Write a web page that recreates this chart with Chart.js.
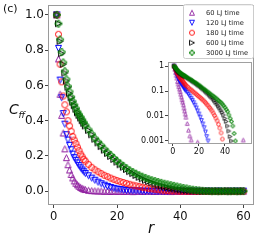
<!DOCTYPE html>
<html lang="en">
<head>
<meta charset="UTF-8">
<title>Cff vs r</title>
<script src="https://cdn.jsdelivr.net/npm/chart.js"></script>
<style>
  body { margin: 0; background: #fff; }
  #wrap { position: relative; width: 258px; height: 240px; }
  #mainChart { position: absolute; left: 0; top: 0; }
  #insetChart { position: absolute; left: 130px; top: 55px; }
</style>
</head>
<body>
<div id="wrap">
  <canvas id="mainChart" width="258" height="240"></canvas>
  <canvas id="insetChart" width="126" height="105"></canvas>
</div>
<script>
const rVals = [1, 1.5, 2, 2.5, 3, 3.5, 4, 4.5, 5, 5.5, 6, 6.5, 7, 7.5, 8, 8.5, 9, 9.5, 10,
  11, 12, 13, 14, 15, 16, 17, 18, 19, 20,
  21, 22, 23, 24, 25, 26, 27, 28, 29, 30,
  31, 32, 33, 34, 35, 36, 37, 38, 39, 40,
  41, 42, 43, 44, 45, 46, 47, 48, 49, 50,
  51, 52, 53, 54, 55, 56, 57, 58, 59, 60];

const c60 = [1, 0.75, 0.55, 0.43, 0.33, 0.24, 0.19, 0.15, 0.12, 0.095, 0.075, 0.058, 0.045, 0.036, 0.028, 0.021, 0.016, 0.012, 0.009,
  0.005, 0.0027, 0.0016, 0.0011, 0.0006, -0.001, 0.0004, -0.002, 0.0009, -0.0015,
  0.0003, -0.002, -0.0008, 0.0005, -0.0025, -0.001, 0.0002, -0.0018, -0.0006, 0.0004,
  -0.0012, -0.002, 0.0003, -0.0009, -0.0015, 0.0001, -0.0022, -0.0005, 0.0002, -0.0013,
  -0.0008, 0.0003, -0.0017, -0.0004, 0.0002, -0.001, -0.002, 0.0001, -0.0006, -0.0014,
  0.0002, -0.0009, -0.0003, 0.0011, -0.0018, -0.0007, 0.0001, -0.0012, -0.0005, 0.0003];

const c120 = [1, 0.81, 0.63, 0.53, 0.44, 0.38, 0.32, 0.29, 0.26, 0.235, 0.21, 0.19, 0.175, 0.16, 0.145, 0.132, 0.12, 0.11, 0.1,
  0.087, 0.074, 0.062, 0.051, 0.042, 0.034, 0.027, 0.021, 0.016, 0.012,
  0.009, 0.0066, 0.0048, 0.0034, 0.0023, 0.0015, 0.001, 0.0004, -0.0008, 0.0002,
  -0.0012, 0.0003, -0.0015, -0.0005, 0.0001, -0.001, 0.0004, -0.0018, -0.0003, 0.0002,
  -0.0009, -0.0014, 0.0003, -0.0006, -0.0011, 0.0001, -0.0016, -0.0004, 0.0002, -0.0008,
  -0.0012, 0.0004, -0.0007, -0.0015, 0.0001, -0.0005, -0.001, 0.0003, -0.0009, -0.0002];

const c180 = [1, 0.89, 0.72, 0.62, 0.54, 0.49, 0.45, 0.40, 0.37, 0.34, 0.31, 0.29, 0.27, 0.25, 0.23, 0.21, 0.195, 0.18, 0.17,
  0.152, 0.135, 0.121, 0.11, 0.1, 0.09, 0.082, 0.074, 0.067, 0.06,
  0.054, 0.049, 0.044, 0.039, 0.034, 0.03, 0.026, 0.022, 0.019, 0.016,
  0.013, 0.0105, 0.0083, 0.0064, 0.0047, 0.0033, 0.0021, 0.0012, 0.0004, -0.0006,
  0.0002, -0.001, -0.0004, 0.0001, -0.0013, -0.0005, 0.0002, -0.0009, -0.0003, -0.0011,
  0.0001, -0.0007, -0.0012, -0.0002, 0.0003, -0.0008, -0.0004, -0.001, 0.0001, -0.0006];

const c600 = [1, 0.95, 0.85, 0.78, 0.72, 0.67, 0.625, 0.59, 0.555, 0.53, 0.505, 0.485, 0.465, 0.445, 0.43, 0.415, 0.4, 0.385, 0.37,
  0.345, 0.32, 0.295, 0.274, 0.253, 0.233, 0.214, 0.197, 0.18, 0.165,
  0.15, 0.136, 0.123, 0.111, 0.1, 0.089, 0.079, 0.07, 0.062, 0.055,
  0.048, 0.041, 0.035, 0.03, 0.025, 0.021, 0.017, 0.014, 0.011, 0.008,
  0.006, 0.004, 0.0025, 0.0015, 0.001, 0.0003, -0.0006, 0.0002, -0.001, -0.0004,
  0.0001, -0.0008, -0.0002, -0.0011, 0.0002, -0.0005, -0.0009, 0.0001, -0.0006, -0.0003];

const c3000 = [1, 0.95, 0.86, 0.79, 0.73, 0.68, 0.635, 0.595, 0.565, 0.535, 0.51, 0.49, 0.47, 0.45, 0.435, 0.42, 0.405, 0.39, 0.375,
  0.35, 0.325, 0.3, 0.28, 0.26, 0.24, 0.22, 0.205, 0.188, 0.172,
  0.157, 0.143, 0.13, 0.118, 0.108, 0.099, 0.09, 0.082, 0.075, 0.068,
  0.062, 0.057, 0.052, 0.047, 0.042, 0.038, 0.034, 0.03, 0.026, 0.022,
  0.018, 0.015, 0.011, 0.008, 0.006, 0.004, 0.002, 0.001, 0.0004, -0.0005,
  0.0002, -0.0008, -0.0003, 0.0001, -0.001, -0.0004, 0.0002, -0.0007, -0.0002, 0.0001];

const seriesNames = ['60 LJ time', '120 LJ time', '180 LJ time', '600 LJ time', '3000 LJ time'];
const seriesValues = [c60, c120, c180, c600, c3000];
const seriesColors = ['#8f1f9f', '#0000ff', '#ff0000', '#000000', '#008000'];
const seriesShapes = ['up', 'down', 'circle', 'right', 'plus'];

const xTicks = [0, 20, 40, 60];
const yTicks = [0, 0.2, 0.4, 0.6, 0.8, 1.0];
const insetXTicks = [0, 20, 40];
const insetYTicks = [0.001, 0.01, 0.1, 1];
const insetYLabels = ['0.001', '0.01', '0.1', '1'];

const FONT = "'DejaVu Sans', sans-serif";

// hollow matplotlib-like markers drawn into small canvases
function makeMarker(shape, color, d, lw) {
    const size = Math.ceil(d + 3);
    const c = document.createElement('canvas');
    c.width = size; c.height = size;
    const g = c.getContext('2d');
    const m = size / 2, h = d / 2;
    g.strokeStyle = color;
    g.lineWidth = lw;
    g.lineJoin = 'miter';
    g.beginPath();
    if (shape === 'circle') {
        g.arc(m, m, h, 0, 2 * Math.PI);
    } else if (shape === 'up') {
        g.moveTo(m, m - h); g.lineTo(m + h, m + h); g.lineTo(m - h, m + h); g.closePath();
    } else if (shape === 'down') {
        g.moveTo(m, m + h); g.lineTo(m + h, m - h); g.lineTo(m - h, m - h); g.closePath();
    } else if (shape === 'right') {
        g.moveTo(m + h, m); g.lineTo(m - h, m - h); g.lineTo(m - h, m + h); g.closePath();
    } else {
        const t = h / 3;
        const pts = [[-t,-h],[t,-h],[t,-t],[h,-t],[h,t],[t,t],[t,h],[-t,h],[-t,t],[-h,t],[-h,-t],[-t,-t]];
        pts.forEach((p, i) => i ? g.lineTo(m + p[0], m + p[1]) : g.moveTo(m + p[0], m + p[1]));
        g.closePath();
    }
    g.stroke();
    return c;
}

const mainMarkers = seriesShapes.map((s, i) => makeMarker(s, seriesColors[i], s === 'plus' ? 6.5 : 6, 1));
const insetMarkers = seriesShapes.map((s, i) => makeMarker(s, seriesColors[i], 3.6, 0.8));
const legendMarkers = seriesShapes.map((s, i) => makeMarker(s, seriesColors[i], 5, 0.9));

const framePlugin = {
    id: 'frame',
    beforeDraw(chart, args, opts) {
        if (!opts.fill) return;
        const a = chart.chartArea, ctx = chart.ctx;
        ctx.save();
        ctx.fillStyle = opts.fill;
        ctx.fillRect(a.left, a.top, a.right - a.left, a.bottom - a.top);
        ctx.restore();
    },
    afterDraw(chart, args, opts) {
        const a = chart.chartArea, ctx = chart.ctx;
        ctx.save();
        ctx.strokeStyle = opts.color || '#999';
        ctx.lineWidth = 1;
        ctx.strokeRect(Math.round(a.left) - 0.5, Math.round(a.top) + 0.5,
            Math.round(a.right - a.left) + 1, Math.round(a.bottom - a.top));
        ctx.restore();
    }
};

const labelsPlugin = {
    id: 'labels',
    afterDraw(chart) {
        const ctx = chart.ctx;
        ctx.save();
        ctx.fillStyle = '#111';
        ctx.textBaseline = 'alphabetic';
        ctx.textAlign = 'left';
        ctx.font = '11px ' + FONT;
        ctx.fillText('(c)', 3, 12);
        ctx.font = 'italic 14px ' + FONT;
        ctx.fillText('C', 9, 114);
        ctx.font = 'italic 9px ' + FONT;
        ctx.fillText('ff', 18.5, 118);
        ctx.font = 'italic 15px ' + FONT;
        ctx.fillText('r', 148, 233);

        // legend box
        const bx = 183.5, by = 4.5, bw = 70, bh = 54;
        ctx.fillStyle = 'rgba(255,255,255,0.85)';
        ctx.strokeStyle = '#cccccc';
        ctx.lineWidth = 1;
        ctx.beginPath();
        ctx.roundRect(bx, by, bw, bh, 2);
        ctx.fill();
        ctx.stroke();
        ctx.font = '6.7px ' + FONT;
        ctx.textBaseline = 'middle';
        ctx.fillStyle = '#222';
        seriesNames.forEach((name, i) => {
            const y = 12.7 + i * 10;
            const mk = legendMarkers[i];
            ctx.drawImage(mk, 192 - mk.width / 2, y - mk.height / 2);
            ctx.fillText(name, 206, y + 0.5);
        });
        ctx.restore();
    }
};

function buildDatasets(markers, forLog) {
    const sets = seriesValues.map((vals, i) => ({
        label: seriesNames[i],
        data: rVals.map((r, k) => ({ x: r, y: forLog ? (vals[k] >= 0.0009 ? vals[k] : null) : vals[k] })),
        pointStyle: markers[i],
        showLine: false
    }));
    // last series drawn on top, as in the original
    return sets.reverse();
}

// fixed axis sizes, no extra label padding so the plot box lands where the reference has it
function fixX(h) {
    return s => { s.height = h; s.paddingLeft = 0; s.paddingRight = 0; s.paddingTop = 0; s.paddingBottom = 0; };
}
function fixY(w) {
    return s => { s.width = w; s.paddingLeft = 0; s.paddingRight = 0; s.paddingTop = 0; s.paddingBottom = 0; };
}

new Chart(document.getElementById('mainChart'), {
    type: 'scatter',
    data: { datasets: buildDatasets(mainMarkers, false) },
    options: {
        responsive: false,
        animation: false,
        layout: { padding: { left: 0, right: 3, top: 3, bottom: 0 } },
        plugins: {
            legend: { display: false },
            tooltip: { enabled: false },
            frame: { color: '#9a9a9a' }
        },
        scales: {
            x: {
                type: 'linear',
                min: -1.5,
                max: 63,
                afterFit: fixX(36),
                afterBuildTicks: s => { s.ticks = xTicks.map(v => ({ value: v })); },
                grid: { drawOnChartArea: false, drawTicks: true, tickLength: 4, color: '#444' },
                border: { display: false },
                ticks: { color: '#111', font: { family: FONT, size: 11.5 }, padding: 2, maxRotation: 0 }
            },
            y: {
                type: 'linear',
                min: -0.073,
                max: 1.056,
                afterFit: fixY(49),
                afterBuildTicks: s => { s.ticks = yTicks.map(v => ({ value: v })); },
                grid: { drawOnChartArea: false, drawTicks: true, tickLength: 4, color: '#444' },
                border: { display: false },
                ticks: { color: '#111', font: { family: FONT, size: 12 }, padding: 1, callback: v => v.toFixed(1) }
            }
        }
    },
    plugins: [framePlugin, labelsPlugin]
});

new Chart(document.getElementById('insetChart'), {
    type: 'scatter',
    data: { datasets: buildDatasets(insetMarkers, true) },
    options: {
        responsive: false,
        animation: false,
        layout: { padding: { left: 0, right: 3, top: 7, bottom: 0 } },
        plugins: {
            legend: { display: false },
            tooltip: { enabled: false },
            frame: { color: '#a0a0a0', fill: '#ffffff' }
        },
        scales: {
            x: {
                type: 'linear',
                min: -3,
                max: 60,
                afterFit: fixX(17),
                afterBuildTicks: s => { s.ticks = insetXTicks.map(v => ({ value: v })); },
                grid: { drawOnChartArea: false, drawTicks: true, tickLength: 3, color: '#444' },
                border: { display: false },
                ticks: { color: '#111', font: { family: FONT, size: 8 }, padding: 1, maxRotation: 0 }
            },
            y: {
                type: 'logarithmic',
                min: 0.00083,
                max: 1.45,
                afterFit: fixY(39),
                afterBuildTicks: s => { s.ticks = insetYTicks.map(v => ({ value: v })); },
                grid: { drawOnChartArea: false, drawTicks: true, tickLength: 4, color: '#444' },
                border: { display: false },
                ticks: {
                    color: '#111', font: { family: FONT, size: 8 }, padding: 1,
                    callback: (v, i) => insetYLabels[insetYTicks.indexOf(v)] ?? ''
                }
            }
        }
    },
    plugins: [framePlugin]
});
</script>
</body>
</html>
